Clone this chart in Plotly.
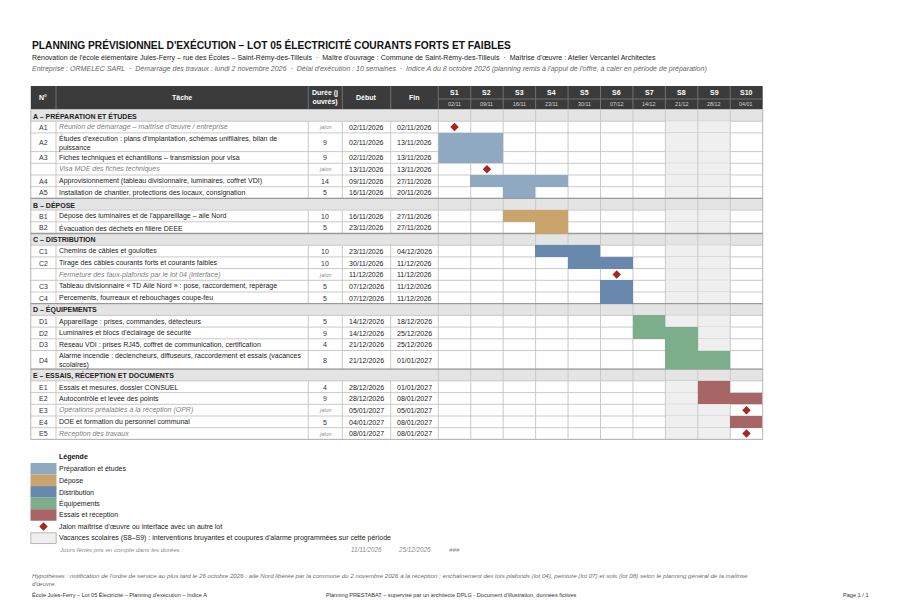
import textwrap
from datetime import date
import plotly.graph_objects as go

# ---------------- DATA ----------------
section_codes = ["A", "B", "C", "D", "E"]
section_titles = ["A – PRÉPARATION ET ÉTUDES", "B – DÉPOSE", "C – DISTRIBUTION",
                  "D – ÉQUIPEMENTS", "E – ESSAIS, RÉCEPTION ET DOCUMENTS"]
legend_labels = ["Préparation et études", "Dépose", "Distribution", "Équipements", "Essais et réception"]

task_section = ["A", "A", "A", "A", "A", "A",
                "B", "B",
                "C", "C", "C", "C", "C",
                "D", "D", "D", "D",
                "E", "E", "E", "E", "E"]
task_ids = ["A1", "A2", "A3", "", "A4", "A5",
            "B1", "B2",
            "C1", "C2", "", "C3", "C4",
            "D1", "D2", "D3", "D4",
            "E1", "E2", "E3", "E4", "E5"]
task_names = [
    "Réunion de démarrage – maîtrise d'œuvre / entreprise",
    "Études d'exécution : plans d'implantation, schémas unifilaires, bilan de puissance",
    "Fiches techniques et échantillons – transmission pour visa",
    "Visa MOE des fiches techniques",
    "Approvisionnement (tableau divisionnaire, luminaires, coffret VDI)",
    "Installation de chantier, protections des locaux, consignation",
    "Dépose des luminaires et de l'appareillage – aile Nord",
    "Évacuation des déchets en filière DEEE",
    "Chemins de câbles et goulottes",
    "Tirage des câbles courants forts et courants faibles",
    "Fermeture des faux-plafonds par le lot 04 (interface)",
    "Tableau divisionnaire « TD Aile Nord » : pose, raccordement, repérage",
    "Percements, fourreaux et rebouchages coupe-feu",
    "Appareillage : prises, commandes, détecteurs",
    "Luminaires et blocs d'éclairage de sécurité",
    "Réseau VDI : prises RJ45, coffret de communication, certification",
    "Alarme incendie : déclencheurs, diffuseurs, raccordement et essais (vacances scolaires)",
    "Essais et mesures, dossier CONSUEL",
    "Autocontrôle et levée des points",
    "Opérations préalables à la réception (OPR)",
    "DOE et formation du personnel communal",
    "Réception des travaux",
]
task_durations = ["jalon", 9, 9, "jalon", 14, 5,
                  10, 5,
                  10, 10, "jalon", 5, 5,
                  5, 9, 4, 8,
                  4, 9, "jalon", 5, "jalon"]
task_starts = ["02/11/2026", "02/11/2026", "02/11/2026", "13/11/2026", "09/11/2026", "16/11/2026",
               "16/11/2026", "23/11/2026",
               "23/11/2026", "30/11/2026", "11/12/2026", "07/12/2026", "07/12/2026",
               "14/12/2026", "14/12/2026", "21/12/2026", "21/12/2026",
               "28/12/2026", "28/12/2026", "05/01/2027", "04/01/2027", "08/01/2027"]
task_ends = ["02/11/2026", "13/11/2026", "13/11/2026", "13/11/2026", "27/11/2026", "20/11/2026",
             "27/11/2026", "27/11/2026",
             "04/12/2026", "11/12/2026", "11/12/2026", "11/12/2026", "11/12/2026",
             "18/12/2026", "25/12/2026", "25/12/2026", "01/01/2027",
             "01/01/2027", "08/01/2027", "05/01/2027", "08/01/2027", "08/01/2027"]

week_labels = ["S1", "S2", "S3", "S4", "S5", "S6", "S7", "S8", "S9", "S10"]
week_dates = ["02/11", "09/11", "16/11", "23/11", "30/11", "07/12", "14/12", "21/12", "28/12", "04/01"]
project_start = "02/11/2026"
vacation_weeks = ["S8", "S9"]
public_holidays = ["11/11/2026", "25/12/2026"]

section_colors = {"A": "#8fa9c3", "B": "#c9a46d", "C": "#6889ad", "D": "#7dae8b", "E": "#a76565"}
MILESTONE_COLOR = "#a3281f"

# ---------------- GEOMETRY / STYLE ----------------
OFF = 8  # page body margin: figure is placed at (8, 8) in the window
FW, FH = 900 - OFF, 600 - OFF
FONT = "Liberation Sans, Arial, sans-serif"
X_L, X_R = 30.8, 762.7
COLS = [30.8, 56.0, 308.3, 342.3, 390.7, 438.3]
N_WEEKS = len(week_labels)
WK = (X_R - COLS[5]) / N_WEEKS
Y_HEAD, Y_HEAD_MID, Y_BODY = 86.0, 99.0, 109.5
ROW_H, ROW_H2 = 11.7, 18.7
HEADER_BG = "#3b3b3b"
SECTION_BG = "#e4e4e4"
HOLIDAY_BG = "#efefef"
GRID = "#c9c9c9"


def pdate(s):
    d, m, y = s.split("/")
    return date(int(y), int(m), int(d))


def week_of(s):
    return (pdate(s) - pdate(project_start)).days // 7


fig = go.Figure()
shapes = []
anns = []


def rect(x0, y0, x1, y1, fill, line=None, lw=0, layer="below"):
    shapes.append(dict(type="rect", xref="x", yref="y", x0=x0, y0=y0, x1=x1, y1=y1,
                       fillcolor=fill, line=dict(color=line or fill, width=lw), layer=layer))


def hline(x0, x1, y, color=GRID, w=1):
    shapes.append(dict(type="line", xref="x", yref="y", x0=x0, x1=x1, y0=y, y1=y,
                       line=dict(color=color, width=w), layer="below"))


def vline(x, y0, y1, color=GRID, w=1):
    shapes.append(dict(type="line", xref="x", yref="y", x0=x, x1=x, y0=y0, y1=y1,
                       line=dict(color=color, width=w), layer="below"))


def text(x, y, t, size=7, color="#222", anchor="left", yanchor="middle", family=FONT):
    anns.append(dict(x=x, y=y, xref="x", yref="y", text=t, showarrow=False,
                     xanchor=anchor, yanchor=yanchor, align=anchor if anchor != "center" else "center",
                     font=dict(size=size, color=color, family=family), borderpad=0))


# ---------------- TITLES ----------------
text(31, 44.5, "<b>PLANNING PRÉVISIONNEL D'EXÉCUTION – LOT 05 ÉLECTRICITÉ COURANTS FORTS ET FAIBLES</b>",
     size=10.2, color="#111")
text(31, 57, "Rénovation de l'école élémentaire Jules-Ferry – rue des Écoles – Saint-Rémy-des-Tilleuls  ·  "
             "Maître d'ouvrage : Commune de Saint-Rémy-des-Tilleuls  ·  Maîtrise d'œuvre : Atelier Vercantel Architectes",
     size=7.05, color="#222")
text(31, 69, "<i>Entreprise : ORMELEC SARL  ·  Démarrage des travaux : lundi 2 novembre 2026  ·  "
             "Délai d'exécution : 10 semaines  ·  Indice A du 8 octobre 2026 (planning remis à l'appui de l'offre, "
             "à caler en période de préparation)</i>", size=7.05, color="#666")

# ---------------- HEADER ----------------
rect(X_L, Y_HEAD, X_R, Y_BODY, HEADER_BG)
for x in COLS[1:6]:
    vline(x, Y_HEAD, Y_BODY, "#707070")
for i in range(1, N_WEEKS):
    vline(COLS[5] + i * WK, Y_HEAD, Y_BODY, "#707070")
hline(COLS[5], X_R, Y_HEAD_MID, "#707070")
hy = (Y_HEAD + Y_BODY) / 2
text((COLS[0] + COLS[1]) / 2, hy, "<b>N°</b>", 7, "white", "center")
text((COLS[1] + COLS[2]) / 2, hy, "<b>Tâche</b>", 7, "white", "center")
text((COLS[2] + COLS[3]) / 2, hy, "<b>Durée (j<br>ouvrés)</b>", 7, "white", "center")
text((COLS[3] + COLS[4]) / 2, hy, "<b>Début</b>", 7, "white", "center")
text((COLS[4] + COLS[5]) / 2, hy, "<b>Fin</b>", 7, "white", "center")
for i, (lab, d) in enumerate(zip(week_labels, week_dates)):
    cx = COLS[5] + (i + 0.5) * WK
    text(cx, (Y_HEAD + Y_HEAD_MID) / 2 + 0.3, "<b>" + lab + "</b>", 7, "white", "center")
    text(cx, (Y_HEAD_MID + Y_BODY) / 2 + 0.2, d, 5.4, "#d4d4d4", "center")

# ---------------- BODY ----------------
vac_idx = [week_labels.index(w) for w in vacation_weeks]
y = Y_BODY
bars = {c: dict(base=[], x=[], y=[], w=[]) for c in section_codes}
ms_x, ms_y = [], []
sec_tops = []
for code, title in zip(section_codes, section_titles):
    top, bot = y, y + ROW_H
    rect(X_L, top, X_R, bot, SECTION_BG)
    sec_tops.append(top)
    text(COLS[0] + 1.5, (top + bot) / 2 + 0.3, "<b>" + title + "</b>", 7, "#222")
    hline(X_L, X_R, bot)
    vline(COLS[5], top, bot)
    y = bot
    for k in range(len(task_ids)):
        if task_section[k] != code:
            continue
        lines = textwrap.wrap(task_names[k], 76)
        h = ROW_H if len(lines) == 1 else ROW_H2
        top, bot = y, y + h
        cy = (top + bot) / 2
        for wi in vac_idx:
            rect(COLS[5] + wi * WK, top, COLS[5] + (wi + 1) * WK, bot, HOLIDAY_BG)
        hline(X_L, X_R, bot)
        for x in COLS[1:6]:
            vline(x, top, bot)
        is_ms = task_durations[k] == "jalon"
        text((COLS[0] + COLS[1]) / 2, cy + 0.3, task_ids[k], 7, "#333", "center")
        name = "<br>".join(lines)
        if is_ms:
            text(COLS[1] + 2, cy + 0.3, "<i>" + name + "</i>", 7, "#808080")
            text((COLS[2] + COLS[3]) / 2, cy + 0.3, "<i>jalon</i>", 5.4, "#8a8a8a", "center")
        else:
            text(COLS[1] + 2, cy + 0.3, name, 7, "#222")
            text((COLS[2] + COLS[3]) / 2, cy + 0.3, str(task_durations[k]), 7, "#333", "center")
        text((COLS[3] + COLS[4]) / 2, cy + 0.3, task_starts[k], 7, "#222", "center")
        text((COLS[4] + COLS[5]) / 2, cy + 0.3, task_ends[k], 7, "#222", "center")
        ws, we = week_of(task_starts[k]), week_of(task_ends[k])
        if is_ms:
            ms_x.append(ws + 0.5)
            ms_y.append(cy)
        else:
            b = bars[code]
            b["base"].append(ws)
            b["x"].append(we - ws + 1)
            b["y"].append(cy)
            b["w"].append(h)
        y = bot
Y_END = y

# week verticals, outer borders
for i in range(1, N_WEEKS):
    vline(COLS[5] + i * WK, Y_BODY, Y_END)
vline(X_L, Y_BODY, Y_END, "#b5b5b5")
vline(X_R, Y_BODY, Y_END, "#b5b5b5")
for t in sec_tops[1:]:
    hline(X_L, X_R, t, "#9a9a9a", 1.3)
hline(X_L, X_R, Y_END, "#b5b5b5")

# bars / milestones through the week axis
for code in section_codes:
    b = bars[code]
    fig.add_trace(go.Bar(orientation="h", base=b["base"], x=b["x"], y=b["y"], width=b["w"],
                         xaxis="x2", yaxis="y", marker=dict(color=section_colors[code], line=dict(width=0)),
                         hoverinfo="skip", showlegend=False))
fig.add_trace(go.Scatter(x=ms_x, y=ms_y, mode="markers", xaxis="x2", yaxis="y",
                         marker=dict(symbol="diamond", size=6.5, color=MILESTONE_COLOR),
                         hoverinfo="skip", showlegend=False))

# ---------------- LEGEND BLOCK ----------------
LY = 456.5
text(58, LY, "<b>Légende</b>", 7, "#111")
ly = 463.0
LH = 11.55
for code, lab in zip(section_codes, legend_labels):
    rect(30.5, ly, 56.5, ly + LH, section_colors[code])
    text(58, ly + LH / 2 + 0.3, lab, 7, "#222")
    ly += LH
fig.add_trace(go.Scatter(x=[43.5], y=[ly + LH / 2], mode="markers", xaxis="x", yaxis="y",
                         marker=dict(symbol="diamond", size=6.5, color=MILESTONE_COLOR),
                         hoverinfo="skip", showlegend=False))
text(58, ly + LH / 2 + 0.3, "Jalon maîtrise d'œuvre ou interface avec un autre lot", 7, "#222")
ly += LH
rect(30.8, ly + 0.5, 56.2, ly + LH - 0.3, HOLIDAY_BG, "#b8b8b8", 1)
text(58, ly + LH / 2 + 0.3,
     "Vacances scolaires (S8–S9) : interventions bruyantes et coupures d'alarme programmées sur cette période",
     7, "#222")
ly += LH
text(58, ly + LH / 2, "<i>Jours fériés pris en compte dans les durées :</i>", 6.2, "#8a8a8a")
text((COLS[3] + COLS[4]) / 2, ly + LH / 2, "<i>" + public_holidays[0] + "</i>", 6.3, "#8a8a8a", "center")
text((COLS[4] + COLS[5]) / 2, ly + LH / 2, "<i>" + public_holidays[1] + "</i>", 6.3, "#8a8a8a", "center")
text(COLS[5] + WK / 2, ly + LH / 2, "<i>###</i>", 6.2, "#8a8a8a", "center")

# ---------------- NOTES / FOOTER ----------------
text(31, 570.5, "<i>Hypothèses : notification de l'ordre de service au plus tard le 26 octobre 2026 ; aile Nord libérée "
                "par la commune du 2 novembre 2026 à la réception ; enchaînement des lots plafonds (lot 04), peinture "
                "(lot 07) et sols (lot 08) selon le planning général de la maîtrise<br>d'œuvre.</i>",
     6.2, "#6a6a6a", "left", "top")
NARROW = "Liberation Sans Narrow, Arial Narrow, Liberation Sans, sans-serif"
text(31, 595, "École Jules-Ferry – Lot 05 Électricité – Planning d'exécution – Indice A", 5.6, "#333", "left",
     family=NARROW)
text(325, 595, "Planning PRESTABAT – supervisé par un architecte DPLG - Document d'illustration, données fictives",
     5.6, "#333", "left", family=NARROW)
text(870, 595, "Page 1 / 1", 5.6, "#333", "right", family=NARROW)

fig.update_layout(
    width=FW, height=FH, margin=dict(l=0, r=0, t=0, b=0), autosize=False,
    paper_bgcolor="white", plot_bgcolor="rgba(0,0,0,0)", barmode="overlay", bargap=0,
    xaxis=dict(range=[OFF, 900], domain=[0, 1], visible=False, fixedrange=True),
    xaxis2=dict(range=[0, N_WEEKS], domain=[(COLS[5] - OFF) / FW, (X_R - OFF) / FW], anchor="y",
                visible=False, fixedrange=True),
    yaxis=dict(range=[600, OFF], domain=[0, 1], visible=False, fixedrange=True),
    shapes=shapes, annotations=anns, showlegend=False,
    font=dict(family=FONT),
)
fig.write_html("out.html", config={"displayModeBar": False})
